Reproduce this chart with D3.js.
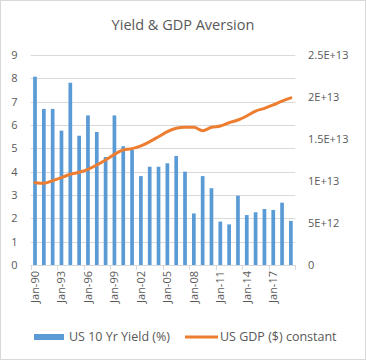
<!DOCTYPE html>
<html>
<head>
<meta charset="utf-8">
<script src="https://cdn.jsdelivr.net/npm/d3@7"></script>
<style>
  html, body { margin: 0; padding: 0; background: #fff; }
  svg { display: block; }
  text { font-family: "Open Sans", "Noto Sans", sans-serif; fill: #595959; }
</style>
</head>
<body>
<svg id="chart" width="366" height="360"></svg>
<script>
const years = [1990,1991,1992,1993,1994,1995,1996,1997,1998,1999,2000,2001,2002,2003,2004,2005,2006,2007,2008,2009,2010,2011,2012,2013,2014,2015,2016,2017,2018,2019];
const categories = years.map(y => "Jan-" + String(y % 100).padStart(2, "0"));
const yieldValues = [8.07,6.69,6.69,5.76,7.81,5.54,6.41,5.70,4.63,6.41,5.09,4.93,3.81,4.21,4.21,4.36,4.67,4.00,2.21,3.81,3.29,1.86,1.74,2.97,2.14,2.26,2.40,2.36,2.67,1.89];
const gdpValues = [9.8e12,9.72e12,10.04e12,10.4e12,10.8e12,11.04e12,11.39e12,11.9e12,12.5e12,13.17e12,13.7e12,13.85e12,14.17e12,14.68e12,15.27e12,15.87e12,16.27e12,16.39e12,16.39e12,15.99e12,16.39e12,16.55e12,16.94e12,17.26e12,17.74e12,18.33e12,18.65e12,19.05e12,19.52e12,19.9e12];
const leftTicks = [0,1,2,3,4,5,6,7,8,9];
const rightTicks = [0,5e12,1e13,1.5e13,2e13,2.5e13];
const rightTickLabels = ["0","5E+12","1E+13","1.5E+13","2E+13","2.5E+13"];
const seriesNames = ["US 10 Yr Yield (%)", "US GDP ($) constant"];

const svg = d3.select("#chart");
const W = 366, H = 360;
const plot = {left: 30.6, right: 295.3, top: 55, bottom: 265};
const barColor = "#5b9bd5", lineColor = "#ed7d31", gridColor = "#d9d9d9";

svg.append("rect").attr("x", 0.5).attr("y", 0.5).attr("width", W - 1).attr("height", H - 1)
  .attr("fill", "#fff").attr("stroke", "#d9d9d9");

svg.append("text").attr("x", 183).attr("y", 30).attr("text-anchor", "middle")
  .style("font-size", "14.5px").text("Yield & GDP Aversion");

const x = d3.scaleBand().domain(categories).range([plot.left, plot.right]).paddingInner(0.58).paddingOuter(0.29);
const yL = d3.scaleLinear().domain([0, 9]).range([plot.bottom, plot.top]);
const yR = d3.scaleLinear().domain([0, 2.5e13]).range([plot.bottom, plot.top]);

// gridlines
svg.append("g").selectAll("line").data(leftTicks).join("line")
  .attr("x1", plot.left).attr("x2", plot.right)
  .attr("y1", d => Math.round(yL(d)) + 0.5).attr("y2", d => Math.round(yL(d)) + 0.5)
  .attr("stroke", gridColor).attr("stroke-width", 1);

// left axis
const leftAxis = d3.axisLeft(yL).tickValues(leftTicks).tickSize(0).tickPadding(0).tickFormat(d3.format("d"));
const gL = svg.append("g").attr("transform", `translate(17.5,0)`).call(leftAxis);
gL.select(".domain").remove();
gL.selectAll("text").style("font-size", "11px").attr("fill", "#595959").style("font-family", '"Open Sans", sans-serif');

// right axis
const rightAxis = d3.axisRight(yR).tickValues(rightTicks).tickSize(0).tickPadding(0)
  .tickFormat((d, i) => rightTickLabels[i]);
const gR = svg.append("g").attr("transform", `translate(308,0)`).call(rightAxis);
gR.select(".domain").remove();
gR.selectAll("text").style("font-size", "11px").attr("fill", "#595959").style("font-family", '"Open Sans", sans-serif');

// bars
svg.append("g").selectAll("rect").data(yieldValues).join("rect")
  .attr("x", (d, i) => x(categories[i]))
  .attr("width", x.bandwidth())
  .attr("y", d => yL(d))
  .attr("height", d => yL(0) - yL(d))
  .attr("fill", barColor);

// bottom axis baseline and ticks
const step = x.step();
svg.append("line").attr("x1", plot.left).attr("x2", plot.right)
  .attr("y1", plot.bottom + 0.5).attr("y2", plot.bottom + 0.5).attr("stroke", gridColor);
const tickCats = categories.filter((c, i) => i % 3 === 0);
svg.append("g").selectAll("line").data(tickCats).join("line")
  .attr("x1", d => Math.round(x(d) - step * 0.29 ) + 0.5)
  .attr("x2", d => Math.round(x(d) - step * 0.29 ) + 0.5)
  .attr("y1", plot.bottom).attr("y2", plot.bottom + 5).attr("stroke", gridColor);
svg.append("line")
  .attr("x1", Math.round(plot.right) + 0.5).attr("x2", Math.round(plot.right) + 0.5)
  .attr("y1", plot.bottom).attr("y2", plot.bottom + 5).attr("stroke", gridColor);

// x labels
const labelCats = categories.filter((c, i) => i % 3 === 0 && i < 28);
svg.append("g").selectAll("text").data(labelCats).join("text")
  .attr("transform", d => `translate(${x(d) + x.bandwidth() / 2 + 4},271) rotate(-90)`)
  .attr("text-anchor", "end")
  .style("font-size", "11px")
  .text(d => d);

// GDP line
const line = d3.line()
  .x((d, i) => x(categories[i]) + x.bandwidth() / 2)
  .y(d => yR(d))
  .curve(d3.curveMonotoneX);
svg.append("path").datum(gdpValues).attr("d", line)
  .attr("fill", "none").attr("stroke", lineColor).attr("stroke-width", 3)
  .attr("stroke-linejoin", "round").attr("stroke-linecap", "round");

// legend
const leg = svg.append("g");
leg.append("rect").attr("x", 34).attr("y", 334).attr("width", 30).attr("height", 6).attr("fill", barColor);
leg.append("text").attr("x", 69).attr("y", 341).style("font-size", "12.5px").text(seriesNames[0]);
leg.append("line").attr("x1", 185).attr("x2", 218).attr("y1", 337).attr("y2", 337)
  .attr("stroke", lineColor).attr("stroke-width", 3);
leg.append("text").attr("x", 220).attr("y", 341).style("font-size", "12.5px").text(seriesNames[1]);
</script>
</body>
</html>
